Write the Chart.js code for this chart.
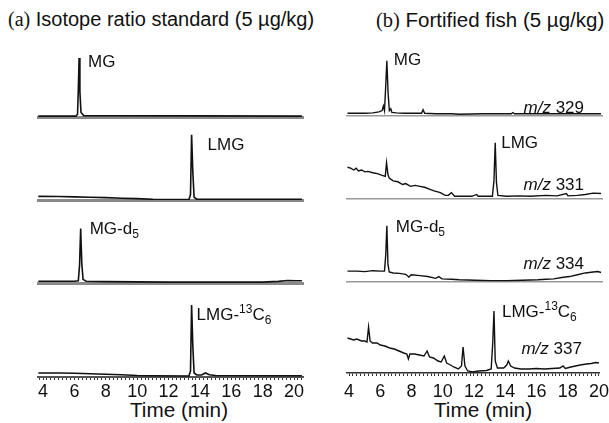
<!DOCTYPE html>
<html>
<head>
<meta charset="utf-8">
<script src="https://cdn.jsdelivr.net/npm/chart.js@4.4.1/dist/chart.umd.min.js"></script>
<style>
  html, body { margin: 0; padding: 0; background: #fff; overflow: hidden; }
  #wrap { position: relative; width: 609px; height: 423px; font-family: "Liberation Sans", Arial, sans-serif; color: #111; }
  .panel { position: absolute; }
  .title { position: absolute; top: 8px; white-space: nowrap; }
  .title .tag { font-family: "Liberation Serif", "Times New Roman", serif; }
  .xtitle { position: absolute; top: 398px; width: 160px; margin-left: -80px; text-align: center; font-size: 20.7px; line-height: 24px; white-space: nowrap; }
</style>
</head>
<body>
<div id="wrap">
  <div class="title" style="left:8px;font-size:20px"><span class="tag">(a)</span> Isotope ratio standard (5 µg/kg)</div>
  <div class="title" style="left:376px;font-size:20.5px"><span class="tag">(b)</span> Fortified fish (5 µg/kg)</div>
  <div class="xtitle" style="left:179px">Time (min)</div>
  <div class="xtitle" style="left:483px">Time (min)</div>
</div>
<script>
// retention time (min) / abundance pairs
const stdMG = [[3.7,1],[6.1,1],[6.2,3],[6.25,30],[6.3,65],[6.35,28],[6.42,5],[6.6,1.5],[20.5,1]];
const stdLMG = [[3.7,4],[5,3.8],[6,3.5],[7,3],[8,2.6],[9,2],[10,1.5],[11,0.8],[12,0.6],[13.3,0.6],[13.4,6],[13.47,72],[13.55,30],[13.63,3],[13.8,1],[15,0.8],[20.5,0.8]];
const stdMGd5 = [[3.7,2],[6.0,2],[6.25,2.5],[6.33,20],[6.4,60],[6.47,22],[6.55,4],[6.75,2],[8,1.5],[12,1],[18,1],[19,1.8],[19.6,2.8],[20.1,2.5],[20.5,2.5]];
const stdLMGc = [[3.7,4],[5,4],[6,3.8],[7,3.3],[8,2.8],[9,2.2],[10,1.5],[11,1.2],[13.3,1],[13.4,6],[13.47,72],[13.55,30],[13.63,4],[13.8,2],[14.1,2],[14.35,4],[14.6,2.2],[15,1.5],[20.5,1.2]];

const fish329 = [[3.9,3],[4.5,3.2],[5,3],[5.5,3.5],[5.9,4.5],[6.1,6],[6.18,11],[6.25,6],[6.32,30],[6.4,61],[6.48,25],[6.56,6],[6.65,8],[6.72,4],[7,3.5],[7.5,3],[8,3],[8.6,3],[8.7,7],[8.8,3],[9.5,2.5],[10.5,2.5],[11,2],[12.5,2.5],[13.5,2.5],[14.3,2.5],[14.4,3.8],[14.5,2.5],[16,2.5],[18,2.5],[20,2.5]];
const fish331 = [[3.9,35],[4.1,34],[4.3,32],[4.45,34],[4.6,31],[4.8,32],[5.0,30],[5.2,30.5],[5.5,29],[5.8,28],[6.1,26],[6.3,25],[6.38,40],[6.47,27],[6.55,23],[6.8,20],[7.1,19],[7.4,16],[7.6,17],[7.9,14],[8.2,15],[8.5,14],[8.8,13],[9.1,11],[9.4,9],[9.8,7],[10.1,4],[10.3,4],[10.5,7],[10.7,3],[11.2,3],[11.8,3],[12.1,5],[12.2,3],[13.1,3],[13.2,20],[13.28,62],[13.36,18],[13.45,4],[14,3],[14.8,3.5],[15.5,3],[16.5,4],[17.2,3.5],[17.8,6],[17.9,3.5],[18.5,4],[19,5],[19.5,6.5],[20,6]];
const fish334 = [[3.9,12],[4.5,12],[5,11.5],[5.5,12.5],[6.0,12],[6.25,12],[6.33,30],[6.4,62],[6.47,20],[6.55,11],[6.8,10],[7.2,9.5],[7.6,8.5],[7.8,5.5],[7.95,8],[8.5,7],[9,6],[9.5,4],[9.7,6],[9.9,3.5],[10.5,3],[11,2.5],[12,2],[13,1.5],[14,1.5],[15,2],[16,2.5],[16.5,3],[17,3.5],[17.5,5],[18,6],[18.5,8],[19,10],[19.5,11],[19.8,11.5],[20,10.5]];
const fish337 = [[3.9,35],[4.1,34],[4.3,33],[4.5,34],[4.8,32],[5.0,32],[5.15,31],[5.25,46],[5.35,32],[5.5,30],[5.8,30],[6.0,28],[6.3,27],[6.6,25],[6.9,24],[7.2,22],[7.5,20],[7.7,19],[7.8,14],[7.9,19],[8.2,19],[8.5,18],[8.8,17],[9.0,22],[9.15,16],[9.4,15],[9.7,12],[9.9,11],[10.1,17],[10.25,10],[10.5,8],[10.7,6],[11.0,4],[11.2,7],[11.3,26],[11.42,7],[11.6,2],[11.9,1],[12.3,2],[12.8,2.5],[13.1,4],[13.2,30],[13.28,62],[13.36,12],[13.5,5],[13.9,5],[14.1,8],[14.2,12],[14.35,7],[14.6,5],[15,4],[15.5,4],[16,4.5],[16.5,4],[17,4.5],[17.5,5],[17.7,7],[17.85,4.5],[18.2,6],[18.5,7],[18.8,8],[19.2,9],[19.5,9.5],[19.8,10.5],[20,10]];

const analyteNames = ['MG', 'LMG', 'MG-d5', 'LMG-13C6'];
const massChannels = ['329', '331', '334', '337'];
const stdPeakTimes = [6.3, 13.47, 6.4, 13.47];
const fishPeakTimes = [6.4, 13.28, 6.4, 13.28];
const timeTicks = [4, 6, 8, 10, 12, 14, 16, 18, 20];

// rich text pieces for the peak names (sub / superscripts)
const nameParts = {
  'MG': [['MG', 'n']],
  'LMG': [['LMG', 'n']],
  'MG-d5': [['MG-d', 'n'], ['5', 'sub']],
  'LMG-13C6': [['LMG-', 'n'], ['13', 'sup'], ['C', 'n'], ['6', 'sub']]
};

const FONT = '"Liberation Sans", Arial, sans-serif';

const peakLabelPlugin = {
  id: 'peakLabel',
  afterDatasetsDraw(chart, args, opts) {
    const { ctx, scales: { x, y } } = chart;
    ctx.save();
    ctx.fillStyle = '#111';
    ctx.textAlign = 'left';
    ctx.textBaseline = 'alphabetic';
    // peak name next to the apex
    let px = x.getPixelForValue(opts.time) + opts.dx;
    const py = y.getPixelForValue(opts.top) + opts.dy;
    nameParts[opts.name].forEach(([t, kind]) => {
      const size = kind === 'n' ? 17 : 12;
      ctx.font = size + 'px ' + FONT;
      const shift = kind === 'sub' ? 4 : (kind === 'sup' ? -7 : 0);
      ctx.fillText(t, px, py + shift);
      px += ctx.measureText(t).width;
    });
    // m/z label on the right
    if (opts.mz) {
      ctx.font = '17px ' + FONT;
      const num = ' ' + opts.mz;
      const right = chart.chartArea.right - 18;
      const w2 = ctx.measureText(num).width;
      const yy = y.getPixelForValue(0) - opts.mzUp;
      ctx.fillText(num, right - w2, yy);
      ctx.font = 'italic 17px ' + FONT;
      const w1 = ctx.measureText('m/z').width;
      ctx.fillText('m/z', right - w2 - w1, yy);
    }
    ctx.restore();
  }
};

const wrap = document.getElementById('wrap');

function makePanel(cfg) {
  const padX = 12;
  const H = 85;
  const bottomAxis = cfg.isBottom;
  const canvasH = H + (bottomAxis ? 30 : 3);
  const div = document.createElement('div');
  div.className = 'panel';
  div.style.left = (cfg.left - padX) + 'px';
  div.style.top = (cfg.baseline - H) + 'px';
  const canvas = document.createElement('canvas');
  canvas.width = cfg.width + 2 * padX;
  canvas.height = canvasH;
  div.appendChild(canvas);
  wrap.appendChild(div);

  const xScale = {
    type: 'linear',
    min: cfg.xMin,
    max: cfg.xMax,
    border: { display: true, color: cfg.axisColor, width: cfg.axisWidth },
    grid: { display: false },
    ticks: { display: false }
  };
  if (bottomAxis) {
    xScale.grid = { display: true, drawOnChartArea: false, drawTicks: true, tickLength: 3, color: '#333', lineWidth: 1 };
    xScale.ticks = {
      display: true, stepSize: 0.25, autoSkip: false, includeBounds: false,
      maxRotation: 0, minRotation: 0, padding: cfg.tickPad, color: '#111',
      font: { family: FONT, size: 18 },
      callback: v => timeTicks.includes(v) ? String(v) : ''
    };
    xScale.afterFit = s => { s.height = 30; };
  }

  new Chart(canvas, {
    type: 'line',
    data: {
      datasets: [{
        data: cfg.trace.map(([t, a]) => ({ x: t, y: a })),
        borderColor: '#111',
        borderWidth: cfg.lineWidth,
        pointRadius: 0,
        tension: 0,
        fill: false
      }]
    },
    options: {
      responsive: false,
      animation: false,
      layout: { padding: { left: padX, right: padX, top: 0, bottom: bottomAxis ? 0 : 3 } },
      plugins: {
        legend: { display: false },
        tooltip: { enabled: false },
        peakLabel: {
          name: cfg.name, time: cfg.peakTime, top: cfg.peakTop,
          dx: cfg.dx, dy: cfg.dy, mz: cfg.mz, mzUp: cfg.mzUp
        }
      },
      scales: {
        x: xScale,
        y: { display: false, min: 0, max: H }
      }
    },
    plugins: [peakLabelPlugin]
  });
}

const stdTraces = [stdMG, stdLMG, stdMGd5, stdLMGc];
const fishTraces = [fish329, fish331, fish334, fish337];
const leftBase = [125, 208, 291, 377];
const rightBase = [124, 207, 290, 373];
const stdLabelOff = [[9, 9], [16, 15], [9, 5], [5, 15]];
const fishLabelOff = [[7, 4], [6, 5], [9, 6], [8, 6]];
const mzUp = [3, 9, 13, 19];

stdTraces.forEach((tr, i) => {
  makePanel({
    left: 38, width: 265, xMin: 3.68, xMax: 20.57, baseline: leftBase[i], isBottom: i === 3, tickPad: 1,
    trace: tr, name: analyteNames[i], peakTime: stdPeakTimes[i],
    peakTop: Math.max(...tr.map(p => p[1])),
    dx: stdLabelOff[i][0], dy: stdLabelOff[i][1],
    axisColor: i === 3 ? '#555' : '#8a8a8a', axisWidth: i === 3 ? 2 : 3, lineWidth: 1.6
  });
});

fishTraces.forEach((tr, i) => {
  makePanel({
    left: 347, width: 255, xMin: 3.87, xMax: 20.06, baseline: rightBase[i], isBottom: i === 3, tickPad: 5,
    trace: tr, name: analyteNames[i], peakTime: fishPeakTimes[i],
    peakTop: Math.max(...tr.map(p => p[1])),
    dx: fishLabelOff[i][0], dy: fishLabelOff[i][1],
    mz: massChannels[i], mzUp: mzUp[i],
    axisColor: i === 3 ? '#333' : '#999', axisWidth: 1.5, lineWidth: 1.4
  });
});
</script>
</body>
</html>
